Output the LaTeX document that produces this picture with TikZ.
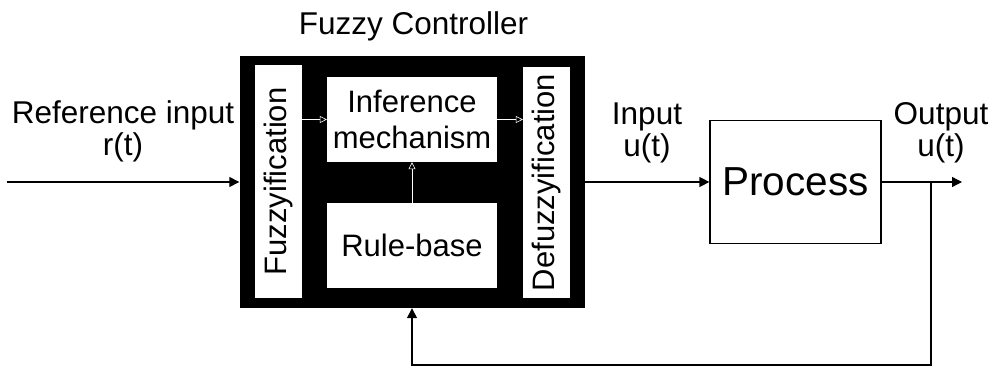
\documentclass[tikz,border=0pt]{standalone}
\usepackage{fontspec}
\setmainfont{Liberation Sans}
\usetikzlibrary{arrows.meta}
\tikzset{sig/.style={line width=1.3pt, -{Triangle[length=10pt,width=10pt]}}}
\tikzset{inner/.style={white, line width=0.6pt, -{Triangle[open,length=7pt,width=7pt]}}}
\tikzset{wbox/.style={fill=white, inner sep=0pt, font=\fontsize{31}{36}\selectfont, align=center}}
\tikzset{lbl/.style={inner sep=0pt, font=\fontsize{31.5}{32}\selectfont, align=center}}

\begin{document}
\begin{tikzpicture}[x=1pt,y=-1pt]
\useasboundingbox (0,0) rectangle (993,371);
% the controller block
\node[fill=black, inner sep=0pt, minimum width=345pt, minimum height=252pt] (ctrl) at (412,182) {};
\node[wbox, rotate=90, minimum width=233pt, minimum height=47pt] (fuzz) at (278.5,181.5) {Fuzzyification};
\node[wbox, rotate=90, minimum width=231pt, minimum height=47pt] (defuzz) at (546.5,182.5) {Defuzzyification};
\node[wbox, minimum width=170pt, minimum height=85pt] (infer) at (412,119.5) {Inference\\mechanism};
\node[wbox, minimum width=170pt, minimum height=85pt] (rule) at (412,245.5) {Rule-base};
\draw[inner] (fuzz.south |- infer.west) -- (infer.west);
\draw[inner] (infer.east) -- (defuzz.north |- infer.east);
\draw[inner] (rule.north) -- (infer.south);
\node[lbl, anchor=base] (title) at (413.5,35) {Fuzzy Controller};
% plant and signals
\node[draw, line width=1.3pt, inner sep=0pt, minimum width=171pt, minimum height=123pt, font=\fontsize{40.5}{41}\selectfont] (proc) at (795.5,182) {Process};
\node[lbl] (reflbl) at (123,131) {Reference input\\r(t)};
\node[lbl] (inlbl) at (647,133) {Input\\u(t)};
\node[lbl] (outlbl) at (941,133) {Output\\u(t)};
\coordinate (start) at (7,182);
\coordinate (out) at (962,182);
\coordinate (tap) at (931,182);
\coordinate (fb) at (931,365);
\draw[sig] (start) -- (ctrl.west);
\draw[sig] (ctrl.east) -- (proc.west);
\draw[sig] (proc.east) -- (out);
\draw[sig] (tap) -- (fb) -| (ctrl.south);
\end{tikzpicture}
\end{document}
